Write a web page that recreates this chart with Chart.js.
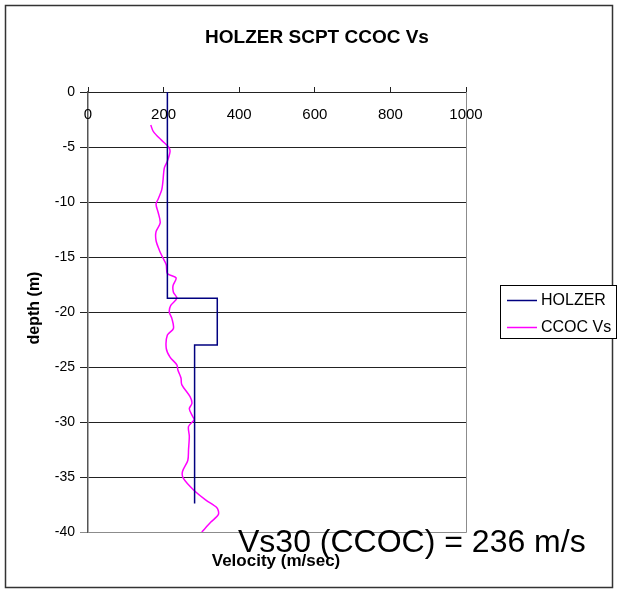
<!DOCTYPE html>
<html>
<head>
<meta charset="utf-8">
<title>HOLZER SCPT CCOC Vs</title>
<script src="https://cdn.jsdelivr.net/npm/chart.js@4.4.1/dist/chart.umd.min.js"></script>
<style>
  html, body { margin: 0; padding: 0; background: #fff; }
  canvas { display: block; }
</style>
</head>
<body>
<canvas id="vsChart" width="620" height="591"></canvas>
<script>
// velocity axis (m/sec) and depth axis (m)
const velTicks = [0, 200, 400, 600, 800, 1000];
const depthTicks = [0, -5, -10, -15, -20, -25, -30, -35, -40];

// HOLZER layered profile
const holzerVel = [210, 210, 342, 342, 282, 282];
const holzerDepth = [0, -18.75, -18.75, -23, -23, -37.4];

// CCOC seismic cone Vs
const ccocVel = [166, 173, 195, 213, 217, 210, 202, 198, 195, 186, 180, 186, 191, 180, 180,
  189, 197, 207, 210, 233, 225, 226, 235, 219, 215, 222, 226, 210, 207, 217, 235, 238,
  246, 248, 270, 275, 268, 277, 281, 266, 268, 266, 264, 250, 252, 280, 312, 341, 345, 325, 301];
const ccocDepth = [-3.0, -3.6, -4.4, -5.0, -5.4, -6.3, -6.9, -8.2, -8.9, -9.7, -10.2, -11.0, -11.9, -12.7, -13.5,
  -14.4, -15.0, -15.7, -16.5, -16.9, -17.6, -18.2, -18.75, -19.4, -20.0, -20.6, -21.5, -22.1, -23.3, -24.1, -24.8, -25.3,
  -26.0, -26.6, -27.7, -28.3, -28.8, -29.5, -29.8, -30.4, -31.3, -32.5, -33.5, -34.5, -35.1, -36.2, -37.1, -37.8, -38.4, -39.1, -40.0];

const seriesNames = ['HOLZER', 'CCOC Vs'];
const seriesColors = ['#000080', '#ff00ff'];
const vs30Note = 'Vs30 (CCOC) = 236 m/s';

const FONT = "'Liberation Sans', Arial, sans-serif";

function toPoints(xs, ys) {
  return xs.map((x, i) => ({ x: x, y: ys[i] }));
}

// titles, x labels under the top axis, legend box and outer frame
const extras = {
  id: 'extras',
  afterDraw(chart) {
    const ctx = chart.ctx;
    const area = chart.chartArea;
    const xScale = chart.scales.x;
    ctx.save();

    // plot area border (right + bottom)
    ctx.strokeStyle = '#8c8c8c';
    ctx.lineWidth = 1;
    ctx.beginPath();
    ctx.moveTo(area.right + 0.5, area.top);
    ctx.lineTo(area.right + 0.5, area.bottom + 0.5);
    ctx.lineTo(area.left, area.bottom + 0.5);
    ctx.stroke();

    // x tick labels sit just below the zero-depth line
    ctx.fillStyle = '#000';
    ctx.font = '15px ' + FONT;
    ctx.textAlign = 'center';
    ctx.textBaseline = 'middle';
    velTicks.forEach((v) => {
      ctx.fillText(String(v), xScale.getPixelForValue(v), 115);
    });

    // chart title
    ctx.font = 'bold 19px ' + FONT;
    ctx.fillText('HOLZER SCPT CCOC Vs', 317, 38);

    // axis titles
    ctx.font = 'bold 17px ' + FONT;
    ctx.fillText('Velocity (m/sec)', 276, 561);
    ctx.save();
    ctx.translate(35, 308);
    ctx.rotate(-Math.PI / 2);
    ctx.font = 'bold 16px ' + FONT;
    ctx.fillText('depth (m)', 0, 0);
    ctx.restore();

    // Vs30 note
    ctx.font = '32px ' + FONT;
    ctx.textAlign = 'left';
    ctx.fillText(vs30Note, 238, 543);

    // outer frame
    ctx.strokeStyle = '#333';
    ctx.lineWidth = 1.5;
    ctx.strokeRect(5.5, 5.5, 607, 582);

    // legend
    ctx.fillStyle = '#fff';
    ctx.fillRect(500.5, 285.5, 116, 53);
    ctx.strokeStyle = '#000';
    ctx.lineWidth = 1;
    ctx.strokeRect(500.5, 285.5, 116, 53);
    ctx.font = '16px ' + FONT;
    seriesNames.forEach((name, i) => {
      const y = 300 + i * 27;
      ctx.strokeStyle = seriesColors[i];
      ctx.lineWidth = 1.5;
      ctx.beginPath();
      ctx.moveTo(507, y + 0.5);
      ctx.lineTo(537, y + 0.5);
      ctx.stroke();
      ctx.fillStyle = '#000';
      ctx.fillText(name, 541, y + 1);
    });

    ctx.restore();
  }
};

new Chart(document.getElementById('vsChart'), {
  type: 'scatter',
  data: {
    datasets: [
      {
        label: seriesNames[0],
        data: toPoints(holzerVel, holzerDepth),
        showLine: true,
        borderColor: seriesColors[0],
        borderWidth: 1.5,
        pointRadius: 0,
        tension: 0,
      },
      {
        label: seriesNames[1],
        data: toPoints(ccocVel, ccocDepth),
        showLine: true,
        borderColor: seriesColors[1],
        borderWidth: 1.5,
        pointRadius: 0,
        tension: 0.3,
      },
    ],
  },
  options: {
    responsive: false,
    animation: false,
    layout: { padding: { left: 0, top: 0, right: 154, bottom: 59 } },
    plugins: {
      legend: { display: false },
      title: { display: false },
      tooltip: { enabled: false },
    },
    scales: {
      x: {
        type: 'linear',
        position: 'top',
        min: 0,
        max: 1000,
        afterBuildTicks: (scale) => {
          scale.ticks = velTicks.map((v) => ({ value: v }));
        },
        afterFit: (scale) => {
          scale.height = 92;
        },
        ticks: { display: false },
        grid: {
          drawOnChartArea: false,
          drawTicks: true,
          tickLength: 5,
          color: '#222',
        },
        border: { display: true, color: '#222', width: 1 },
      },
      y: {
        type: 'linear',
        min: -40,
        max: 0,
        afterBuildTicks: (scale) => {
          scale.ticks = depthTicks.map((v) => ({ value: v }));
        },
        afterFit: (scale) => {
          scale.width = 88;
        },
        ticks: {
          color: '#000',
          padding: 5,
          font: { family: FONT, size: 14 },
        },
        grid: {
          color: (c) => (c.tick && c.tick.value === -40 ? '#8c8c8c' : '#222'),
          lineWidth: 1,
          tickLength: 8,
          drawTicks: true,
        },
        border: { display: true, color: '#555', width: 1.5 },
      },
    },
  },
  plugins: [extras],
});
</script>
</body>
</html>
